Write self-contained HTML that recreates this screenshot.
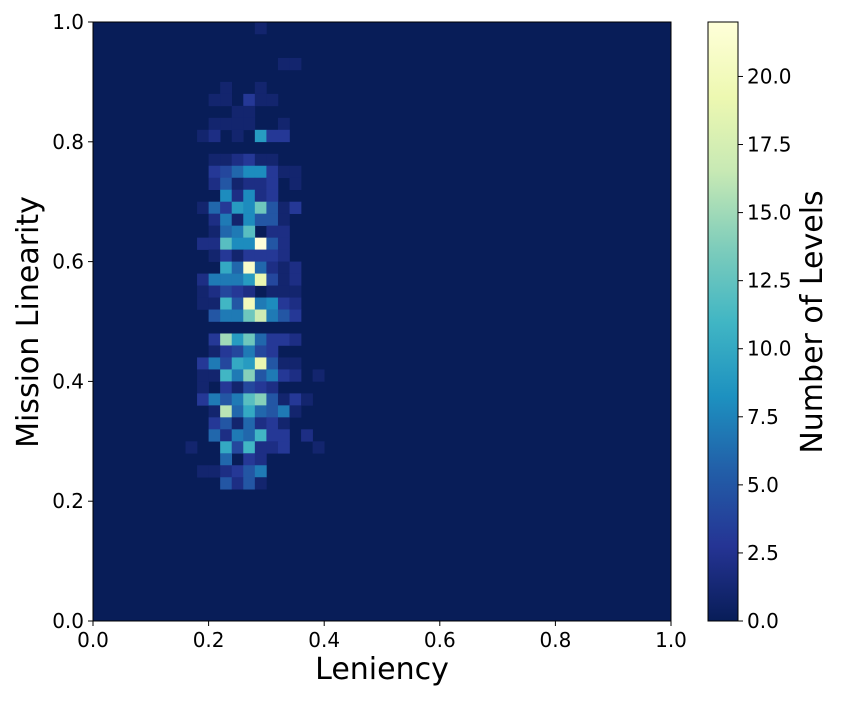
<!DOCTYPE html>
<html><head><meta charset="utf-8"><style>
html,body{margin:0;padding:0;background:#fff;}
svg text{font-family:"DejaVu Sans","Liberation Sans",sans-serif;fill:#000;}
</style></head><body>
<svg id="chart" width="850" height="700" xmlns="http://www.w3.org/2000/svg">
<rect x="93" y="22" width="578" height="599" fill="#081d58"/>
<g id="cells"></g>
<rect x="93" y="22" width="578" height="599" fill="none" stroke="#000" stroke-width="1"/>
<g id="axes"></g>
<defs><linearGradient id="cbgrad" x1="0" y1="1" x2="0" y2="0"></linearGradient></defs>
<rect x="708" y="22" width="30" height="599" fill="url(#cbgrad)" stroke="#000" stroke-width="1"/>
<g id="cbaxis"></g>
<text x="382" y="679" font-size="30" text-anchor="middle">Leniency</text>
<text transform="translate(38,322) rotate(-90)" font-size="30" text-anchor="middle">Mission Linearity</text>
<text transform="translate(822,322) rotate(-90)" font-size="30" text-anchor="middle">Number of Levels</text>
</svg>
<script>
const nBins = 50;
const startCol = 8;
const xTicks = [0, 0.2, 0.4, 0.6, 0.8, 1.0];
const yTicks = [0, 0.2, 0.4, 0.6, 0.8, 1.0];
const cbTicks = [0, 2.5, 5, 7.5, 10, 12.5, 15, 17.5, 20];
const vmax = 22;
// rows from top (row 0 = y bin 49); values for columns 8..19
const rowIds = [0,3,5,6,7,8,9,11,12,13,14,15,16,17,18,19,20,21,22,23,24,26,27,28,29,30,31,32,33,34,35,36,37,38];
const rowCounts = [
[0,0,0,0,0,0,1,0,0,0,0,0],
[0,0,0,0,0,0,0,0,1,1,0,0],
[0,0,0,1,0,0,1,0,0,0,0,0],
[0,0,1,1,0,3,1,1,0,0,0,0],
[0,0,0,0,1,1,0,0,0,0,0,0],
[0,0,1,1,1,1,0,0,1,0,0,0],
[0,1,2,0,1,0,9,3,3,0,0,0],
[0,0,1,1,2,3,1,1,0,0,0,0],
[0,0,3,4,6,8,8,3,1,1,0,0],
[0,0,2,5,1,2,2,3,0,1,0,0],
[0,0,0,8,2,8,2,3,0,0,0,0],
[0,1,6,3,9,8,13,5,1,3,0,0],
[0,0,2,7,1,8,5,5,1,0,0,0],
[0,0,1,6,7,12,0,2,2,0,0,0],
[0,2,2,12,8,8,22,5,2,0,0,0],
[0,0,1,3,1,3,3,3,2,0,0,0],
[0,0,0,10,6,21,6,2,1,2,0,0],
[0,2,7,7,7,9,19,4,1,2,0,0],
[0,1,2,4,3,2,0,1,1,1,0,0],
[0,1,1,11,5,20,7,8,3,2,0,0],
[0,0,5,7,7,13,17,7,5,3,0,0],
[0,0,3,15,9,13,6,3,3,2,0,0],
[0,0,1,3,4,7,4,3,0,0,0,0],
[0,3,7,4,10,9,19,5,1,1,0,0],
[0,1,1,11,7,14,5,7,3,2,0,1],
[0,1,0,3,1,4,3,2,0,0,0,0],
[0,3,7,5,7,12,14,5,1,3,1,0],
[0,0,1,16,6,10,6,5,7,1,0,0],
[0,0,3,5,1,6,2,3,1,0,0,0],
[0,0,6,2,7,6,11,3,3,0,2,0],
[1,0,0,10,4,11,2,2,3,0,0,1],
[0,0,0,6,0,3,2,0,0,0,0,0],
[0,1,1,2,3,5,7,0,0,0,0,0],
[0,0,0,5,2,5,1,0,0,0,0,0]
];
const cmapStops = ['#081d58','#253494','#225ea8','#1d91c0','#41b6c4','#7fcdbb','#c7e9b4','#edf8b1','#ffffd9'];
const X0=93,X1=671,Y0=621,Y1=22;
const xs = v => X0 + v*(X1-X0);
const ys = v => Y0 - v*(Y0-Y1);
function hex(c){return [1,3,5].map(i=>parseInt(c.substr(i,2),16));}
function color(v){
  let t=Math.max(0,Math.min(1,v/vmax))*(cmapStops.length-1);
  let i=Math.min(Math.floor(t),cmapStops.length-2), f=t-i;
  let a=hex(cmapStops[i]), b=hex(cmapStops[i+1]);
  return 'rgb('+a.map((x,k)=>Math.round(x+(b[k]-x)*f)).join(',')+')';
}
const NS='http://www.w3.org/2000/svg';
function mk(tag,attrs,parent){const e=document.createElementNS(NS,tag);for(const k in attrs)e.setAttribute(k,attrs[k]);parent.appendChild(e);return e;}
const cells=document.getElementById('cells');
rowIds.forEach((r,ri)=>{
  rowCounts[ri].forEach((v,ci)=>{
    if(v<=0)return;
    const col=startCol+ci, yb=nBins-1-r;
    const x=xs(col/nBins), x2=xs((col+1)/nBins), y=ys((yb+1)/nBins), y2=ys(yb/nBins);
    const el=mk('rect',{x:x,y:y,width:x2-x+0.3,height:y2-y+0.3,fill:color(v)},cells);
    
    
  });
});
const axes=document.getElementById('axes');
xTicks.forEach(t=>{
  const x=xs(t);
  const l=mk('line',{x1:x,x2:x,y1:Y0,y2:Y0+5,stroke:'#000'},axes);
  
  
  const tx=mk('text',{x:x,y:Y0+26,'font-size':20,'text-anchor':'middle'},axes);
  tx.textContent=t.toFixed(1);
  
  
});
yTicks.forEach(t=>{
  const y=ys(t);
  const l=mk('line',{x1:X0-5,x2:X0,y1:y,y2:y,stroke:'#000'},axes);
  
  
  const tx=mk('text',{x:X0-9,y:y+7,'font-size':20,'text-anchor':'end'},axes);
  tx.textContent=t.toFixed(1);
  
  
});
const grad=document.getElementById('cbgrad');
cmapStops.forEach((c,i)=>{mk('stop',{offset:(i/(cmapStops.length-1)),'stop-color':c},grad);});
const cb=document.getElementById('cbaxis');
cbTicks.forEach(t=>{
  const y=Y0-t/vmax*(Y0-Y1);
  const l=mk('line',{x1:738,x2:743,y1:y,y2:y,stroke:'#000'},cb);
  
  
  const tx=mk('text',{x:747,y:y+7,'font-size':20},cb);
  tx.textContent=t.toFixed(1);
  
  
});
</script>
</body></html>
